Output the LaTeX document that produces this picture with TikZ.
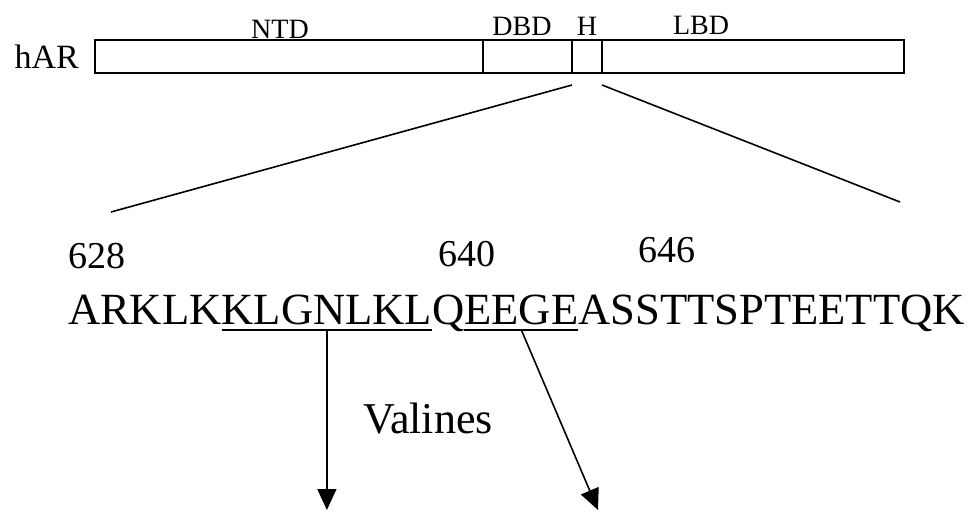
\documentclass[tikz,border=0pt]{standalone}
\usepackage{fontspec}
\setmainfont{Liberation Serif}
\usepackage{tikz}
\usetikzlibrary{arrows.meta,positioning,calc}

\tikzset{
  domlabel/.style={font=\fontsize{28}{30}\selectfont, inner sep=0pt, anchor=base},
  seq/.style={font=\fontsize{44.6}{50}\selectfont, inner sep=0pt, outer sep=0pt, anchor=base west},
  resnum/.style={font=\fontsize{38}{40}\selectfont, inner sep=0pt, anchor=base west},
  arr/.style={line width=1.6pt, -{Triangle[length=21pt,width=19pt]}}
}

\begin{document}
\begin{tikzpicture}[x=1pt, y=-1pt]
\useasboundingbox (0,0) rectangle (971,514);

% receptor bar with domains
\draw[line width=1.8pt] (95,40) rectangle (904,73);
\draw[line width=1.5pt] (483,40) -- (483,73);
\draw[line width=1.5pt] (572,40) -- (572,73);
\draw[line width=1.5pt] (602,40) -- (602,73);
\coordinate (hl) at (572,85);
\coordinate (hr) at (602,85);
\node[font=\fontsize{34}{36}\selectfont, inner sep=0pt, anchor=base east] (har) at (79,68) {hAR};
\node[domlabel] (ntd) at (280,38) {NTD};
\node[domlabel] (dbd) at (522,35) {DBD};
\node[domlabel] (hinge) at (587,35) {H};
\node[domlabel] (lbd) at (701,34) {LBD};

% zoom onto the hinge region
\coordinate (zl) at (111,212);
\coordinate (zr) at (900,202);
\draw[line width=1.6pt] (hl) -- (zl);
\draw[line width=1.6pt] (hr) -- (zr);

% residue numbers
\node[resnum] (n628) at (68,268) {628};
\node[resnum] (n640) at (438,266) {640};
\node[resnum] (n646) at (638,262) {646};

% sequence
\node[seq] (s1) at (68,324) {ARKLK};
\node[seq] (s2) at (s1.base east) {KLGNLKL};
\node[seq] (s3) at (s2.base east) {Q};
\node[seq] (s4) at (s3.base east) {EEGE};
\node[seq] (s5) at (s4.base east) {ASSTTSPTEETTQK};
\draw[line width=1.4pt] ([yshift=-6pt]s2.base west) -- ([yshift=-6pt]s2.base east);
\draw[line width=1.4pt] ([yshift=-6pt]s4.base west) -- ([yshift=-6pt]s4.base east);

% valine substitutions
\node[font=\fontsize{44}{46}\selectfont, inner sep=0pt, anchor=base] (val) at (428,433) {Valines};
\coordinate (v1) at (s2.base |- 0,510);
\coordinate (v2) at (598,510);
\draw[arr] ([yshift=-6pt]s2.base) -- (v1);
\draw[arr] ([yshift=-6pt]s4.base) -- (v2);

\end{tikzpicture}
\end{document}
